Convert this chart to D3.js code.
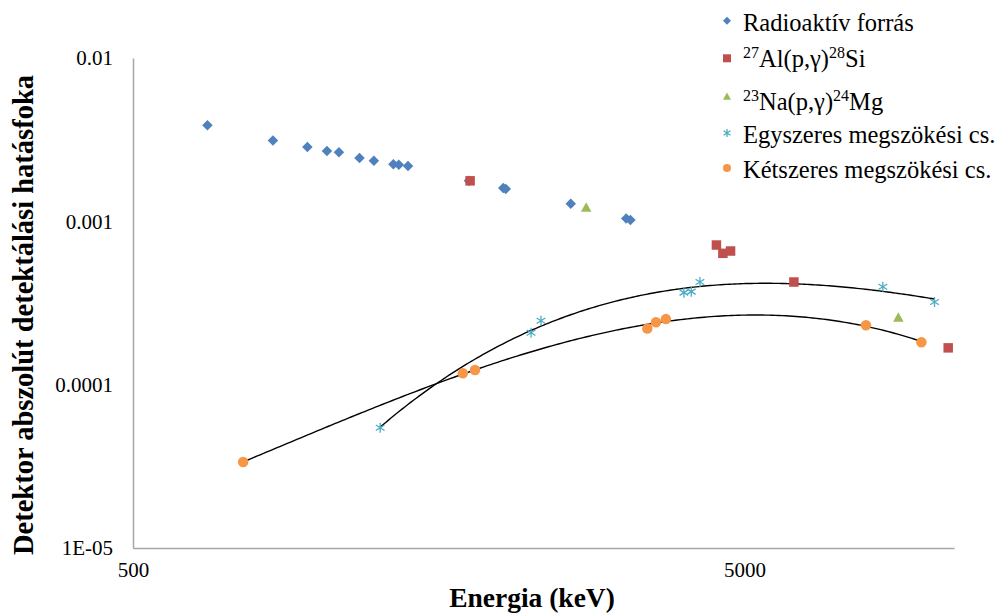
<!DOCTYPE html>
<html>
<head>
<meta charset="utf-8">
<script src="https://cdn.jsdelivr.net/npm/d3@7"></script>
<style>
  body { margin: 0; background: #fff; }
  svg text { font-family: "Liberation Serif", "Times New Roman", serif; fill: #000; }
</style>
</head>
<body>
<script>
// energies in keV, efficiencies (absolute)
const radioE   = [661.7, 846.8, 964.1, 1037.8, 1085.8, 1173.2, 1238.3, 1332.5, 1360.2, 1408.0, 1771.3, 2015.2, 2034.8, 2598.5, 3202.0, 3253.5];
const radioEff = [3.87e-3, 3.13e-3, 2.85e-3, 2.70e-3, 2.65e-3, 2.44e-3, 2.35e-3, 2.24e-3, 2.22e-3, 2.18e-3, 1.77e-3, 1.60e-3, 1.58e-3, 1.28e-3, 1.04e-3, 1.02e-3];

const alE   = [1779, 4497, 4608, 4743, 6020, 10762];
const alEff = [1.77e-3, 7.16e-4, 6.37e-4, 6.58e-4, 4.25e-4, 1.68e-4];

const naE   = [2754, 8920];
const naEff = [1.21e-3, 2.57e-4];

const seE   = [1268, 2238, 2323, 3979, 4091, 4226, 8414, 10221];
const seEff = [5.45e-5, 2.08e-4, 2.46e-4, 3.66e-4, 3.71e-4, 4.25e-4, 3.98e-4, 3.21e-4];

const deE   = [757, 1731, 1812, 3467, 3582, 3718, 7897, 9730];
const deEff = [3.36e-5, 1.174e-4, 1.23e-4, 2.21e-4, 2.41e-4, 2.52e-4, 2.31e-4, 1.82e-4];

const xTicks = [500, 5000];
const yTicks = [1e-5, 1e-4, 1e-3, 1e-2];
const yTickLabels = ["1E-05", "0.0001", "0.001", "0.01"];

const legendNames = ["Radioaktív forrás", "Al(p,γ)Si", "Na(p,γ)Mg", "Egyszeres megszökési cs.", "Kétszeres megszökési cs."];

const W = 1004, H = 614;
const svg = d3.select("body").append("svg").attr("width", W).attr("height", H);

const x = d3.scaleLog().domain([500, 11000]).range([133, 954]);
const y = d3.scaleLog().domain([1e-5, 1e-2]).range([548, 58]);

const axisColor = "#a6a6a6";

// axes
const gx = svg.append("g").attr("transform", "translate(0,548)")
  .call(d3.axisBottom(x).tickValues(xTicks).tickSize(0).tickPadding(14).tickFormat(d3.format("d")));
const gy = svg.append("g").attr("transform", "translate(133,0)")
  .call(d3.axisLeft(y).tickValues(yTicks).tickSize(0).tickPadding(20).tickFormat((d, i) => yTickLabels[i]));
[gx, gy].forEach(g => {
  g.select(".domain").attr("stroke", axisColor).attr("stroke-width", 1.5);
  g.selectAll("text").style("font-family", '"Liberation Serif", serif').style("font-size", "21px").attr("fill", "#000");
});

// titles
svg.append("text").attr("x", 532).attr("y", 607).attr("text-anchor", "middle")
  .style("font-size", "27.5px").style("font-weight", "bold").text("Energia (keV)");
svg.append("text").attr("transform", "translate(33,315) rotate(-90)").attr("text-anchor", "middle")
  .style("font-size", "28.5px").style("font-weight", "bold").text("Detektor abszolút detektálási hatásfoka");

// least squares polynomial fit
function polyfit(xs, ys, deg) {
  const m = deg + 1;
  const A = d3.range(m).map(() => new Array(m).fill(0));
  const b = new Array(m).fill(0);
  xs.forEach((u, i) => {
    for (let r = 0; r < m; r++) {
      b[r] += ys[i] * Math.pow(u, r);
      for (let c = 0; c < m; c++) A[r][c] += Math.pow(u, r + c);
    }
  });
  for (let c = 0; c < m; c++) for (let r = c + 1; r < m; r++) {
    const f = A[r][c] / A[c][c];
    for (let k = c; k < m; k++) A[r][k] -= f * A[c][k];
    b[r] -= f * b[c];
  }
  const co = new Array(m).fill(0);
  for (let r = m - 1; r >= 0; r--) {
    let v = b[r];
    for (let k = r + 1; k < m; k++) v -= A[r][k] * co[k];
    co[r] = v / A[r][r];
  }
  return u => co.reduce((s, c, k) => s + c * Math.pow(u, k), 0);
}

// trendline: cubic in log-log
function trend(xs, ys) {
  const p = polyfit(xs.map(Math.log10), ys.map(Math.log10), 3);
  const lo = d3.min(xs), hi = d3.max(xs);
  const pts = d3.range(0, 201).map(i => {
    const e = lo * Math.pow(hi / lo, i / 200);
    return [e, Math.pow(10, p(Math.log10(e)))];
  });
  svg.append("path").datum(pts)
    .attr("fill", "none").attr("stroke", "#000").attr("stroke-width", 1.4)
    .attr("d", d3.line().x(d => x(d[0])).y(d => y(d[1])));
}
trend(seE, seEff);
trend(deE, deEff);

// marker shapes
const colors = ["#4f81bd", "#c0504d", "#9bbb59", "#4bacc6", "#f79646"];
function marker(g, type, cx, cy, s) {
  const h = s / 2;
  if (type === 0) {
    g.append("path").attr("d", `M${cx},${cy - h}L${cx + h},${cy}L${cx},${cy + h}L${cx - h},${cy}Z`).attr("fill", colors[0]);
  } else if (type === 1) {
    g.append("rect").attr("x", cx - h).attr("y", cy - h).attr("width", s).attr("height", s).attr("fill", colors[1]);
  } else if (type === 2) {
    g.append("path").attr("d", `M${cx},${cy - h * 1.05}L${cx + h},${cy + h * 0.75}L${cx - h},${cy + h * 0.75}Z`).attr("fill", colors[2]);
  } else if (type === 3) {
    const dx = h * 0.87, dy = h * 0.55;
    g.append("path")
      .attr("d", `M${cx},${cy - h}L${cx},${cy + h}M${cx - dx},${cy - dy}L${cx + dx},${cy + dy}M${cx - dx},${cy + dy}L${cx + dx},${cy - dy}`)
      .attr("stroke", colors[3]).attr("stroke-width", 1.3).attr("fill", "none");
  } else {
    g.append("circle").attr("cx", cx).attr("cy", cy).attr("r", h).attr("fill", colors[4]);
  }
}

const series = [[radioE, radioEff], [alE, alEff], [naE, naEff], [seE, seEff], [deE, deEff]];
const sizes = [10.5, 9.5, 10.5, 10, 10.5];
const pg = svg.append("g");
series.forEach((s, k) => {
  s[0].forEach((e, i) => marker(pg, k, x(e), y(s[1][i]), sizes[k]));
});

// legend
const lg = svg.append("g");
const markY = [20.7, 58.3, 96.7, 133, 168];
const textY = [30.7, 66.7, 110, 143.3, 178.3];
legendNames.forEach((n, k) => {
  marker(lg, k, 727, markY[k], 8);
  const t = lg.append("text").attr("x", 743).attr("y", textY[k]).style("font-size", "24.5px");
  if (k === 1 || k === 2) {
    const parts = k === 1 ? ["27", "Al(p,γ)", "28", "Si"] : ["23", "Na(p,γ)", "24", "Mg"];
    t.append("tspan").attr("dy", -9).style("font-size", "16px").text(parts[0]);
    t.append("tspan").attr("dy", 9).text(parts[1]);
    t.append("tspan").attr("dy", -9).style("font-size", "16px").text(parts[2]);
    t.append("tspan").attr("dy", 9).text(parts[3]);
  } else {
    t.text(n);
  }
});
</script>
</body>
</html>
